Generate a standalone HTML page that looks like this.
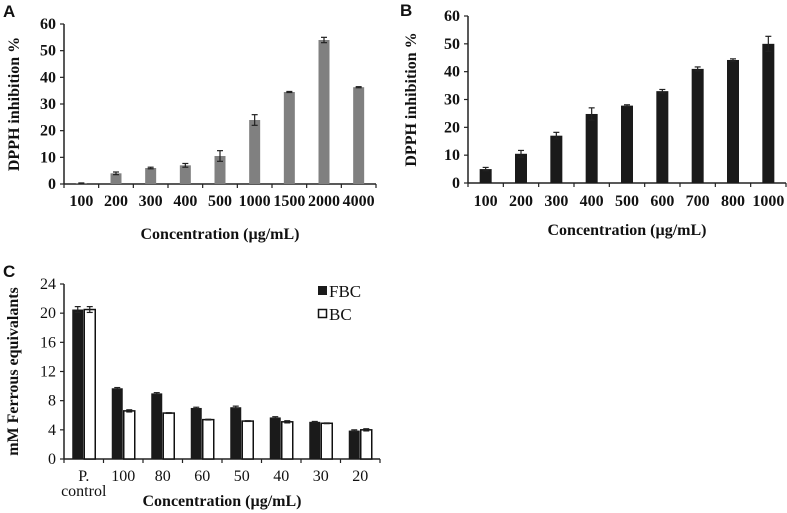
<!DOCTYPE html>
<html><head><meta charset="utf-8"><style>
html,body{margin:0;padding:0;background:#fff;width:787px;height:513px;overflow:hidden}
svg{display:block}
text{font-family:"Liberation Serif",serif;fill:#111}
.b{font-weight:bold}
.pl{font-family:"Liberation Sans",sans-serif;font-weight:bold;font-size:17px}
</style></head><body>
<svg id="fig" width="787" height="513">
<text class="pl" x="3" y="17">A</text>
<text class="pl" x="400" y="16">B</text>
<text class="pl" x="3" y="277">C</text>
<g id="ga"></g>
<g id="gb"></g>
<g id="gc"></g>
</svg>
<script>
const catsA=["100","200","300","400","500","1000","1500","2000","4000"];
const valsA=[0.3,4,6,7,10.5,24,34.5,54,36.3];
const errA=[0.1,0.5,0.3,0.7,2,2,0.2,1,0.2];
const ticksA=[0,10,20,30,40,50,60];
const catsB=["100","200","300","400","500","600","700","800","1000"];
const valsB=[5,10.5,17,24.8,27.8,33,41,44.2,50];
const errB=[0.6,1.2,1.2,2.2,0.3,0.6,0.7,0.4,2.7];
const ticksB=[0,10,20,30,40,50,60];
const catsC=["P.|control","100","80","60","50","40","30","20"];
const fbcC=[20.5,9.7,9,7,7.1,5.7,5.1,3.9];
const bcC=[20.5,6.6,6.3,5.4,5.2,5.1,4.9,4.0];
const errFbc=[0.4,0.1,0.1,0.1,0.15,0.1,0.05,0.1];
const errBc=[0.4,0.15,0.05,0.05,0.05,0.15,0.05,0.15];
const ticksC=[0,4,8,12,16,20,24];
const NS="http://www.w3.org/2000/svg";
function mk(p,t,a,txt){const e=document.createElementNS(NS,t);for(const k in a)e.setAttribute(k,a[k]);if(txt!==undefined)e.textContent=txt;p.appendChild(e);return e;}
function axes(g,o){
 const y=v=>o.y0-(v-o.min)/(o.max-o.min)*(o.y0-o.y1);
 const ax=mk(g,'line',{x1:o.x0,y1:o.y1,x2:o.x0,y2:o.y0,stroke:'#222','stroke-width':1.5});
 
 const bx=mk(g,'line',{x1:o.x0,y1:o.y0,x2:o.x1,y2:o.y0,stroke:'#222','stroke-width':1.5});
 
 o.ticks.forEach(t=>{mk(g,'line',{x1:o.x0-4,x2:o.x0,y1:y(t),y2:y(t),stroke:'#222','stroke-width':1.2});
  const l=mk(g,'text',{x:o.x0-8,y:y(t)+5,'text-anchor':'end','font-size':o.fs,class:o.bold?'b':''},t);
  });
 const n=o.cats.length,w=(o.x1-o.x0)/n;
 for(let i=0;i<=n;i++)mk(g,'line',{x1:o.x0+i*w,x2:o.x0+i*w,y1:o.y0,y2:o.y0+4,stroke:'#222','stroke-width':1.2});
 o.cats.forEach((c,i)=>{const parts=c.split('|');parts.forEach((p,j)=>{
  const l=mk(g,'text',{x:o.x0+(i+0.5)*w,y:o.ly+j*15,'text-anchor':'middle','font-size':o.fs,class:o.bold?'b':''},p);
  });});
 const xt=mk(g,'text',{x:(o.x0+o.x1)/2,y:o.ty,'text-anchor':'middle','font-size':16,class:'b'},'Concentration (µg/mL)');
 
 const yt=mk(g,'text',{x:0,y:0,'text-anchor':'middle','font-size':o.yfs,class:'b',transform:`translate(${o.yx},${(o.y0+o.y1)/2}) rotate(-90)`},o.ylab);
 
 return {y,w};
}
function bar(g,x,bw,v,e,y,fill,name){
 const r=mk(g,'rect',{x:x-bw/2,y:y(v),width:bw,height:y(0)-y(v),fill:fill,stroke:fill=='#fff'?'#111':'none','stroke-width':1.5});
 
 mk(g,'line',{x1:x,x2:x,y1:y(v+e),y2:y(v-e),stroke:'#222','stroke-width':1.2});
 mk(g,'line',{x1:x-3,x2:x+3,y1:y(v+e),y2:y(v+e),stroke:'#222','stroke-width':1.2});
 mk(g,'line',{x1:x-3,x2:x+3,y1:y(v-e),y2:y(v-e),stroke:'#222','stroke-width':1.2});
}
const ga=document.getElementById('ga');
let A=axes(ga,{x0:64,x1:376,y0:184,y1:24,min:0,max:60,ticks:ticksA,cats:catsA,fs:16,bold:true,ly:206,ty:239,yx:19,yfs:16,ylab:'DPPH inhibition %'});
valsA.forEach((v,i)=>bar(ga,64+(i+0.5)*A.w,11,v,errA[i],A.y,'#808080','bar-a-'+catsA[i]));
const gb=document.getElementById('gb');
let B=axes(gb,{x0:468,x1:786,y0:183,y1:16,min:0,max:60,ticks:ticksB,cats:catsB,fs:16,bold:true,ly:206,ty:235,yx:416,yfs:16,ylab:'DPPH inhibition %'});
valsB.forEach((v,i)=>bar(gb,468+(i+0.5)*B.w,12,v,errB[i],B.y,'#1a1a1a','bar-b-'+catsB[i]));
const gc=document.getElementById('gc');
let C=axes(gc,{x0:64,x1:380,y0:459,y1:284,min:0,max:24,ticks:ticksC,cats:catsC,fs:16,bold:false,ly:481,ty:506,yx:18,yfs:16,ylab:'mM Ferrous equivalants'});
catsC.forEach((c,i)=>{const cx=64+(i+0.5)*C.w;
 bar(gc,cx-6,11,fbcC[i],errFbc[i],C.y,'#1a1a1a','bar-fbc-'+i);
 bar(gc,cx+6,11,bcC[i],errBc[i],C.y,'#fff','bar-bc-'+i);});
const lg=mk(gc,'g',{});
mk(lg,'rect',{x:318,y:286,width:9,height:9,fill:'#1a1a1a'});
mk(lg,'text',{x:329,y:297,'font-size':17},'FBC');
mk(lg,'rect',{x:318.5,y:309.5,width:8,height:8,fill:'#fff',stroke:'#111','stroke-width':1.5});
mk(lg,'text',{x:329,y:320,'font-size':17},'BC');
</script>
</body></html>
